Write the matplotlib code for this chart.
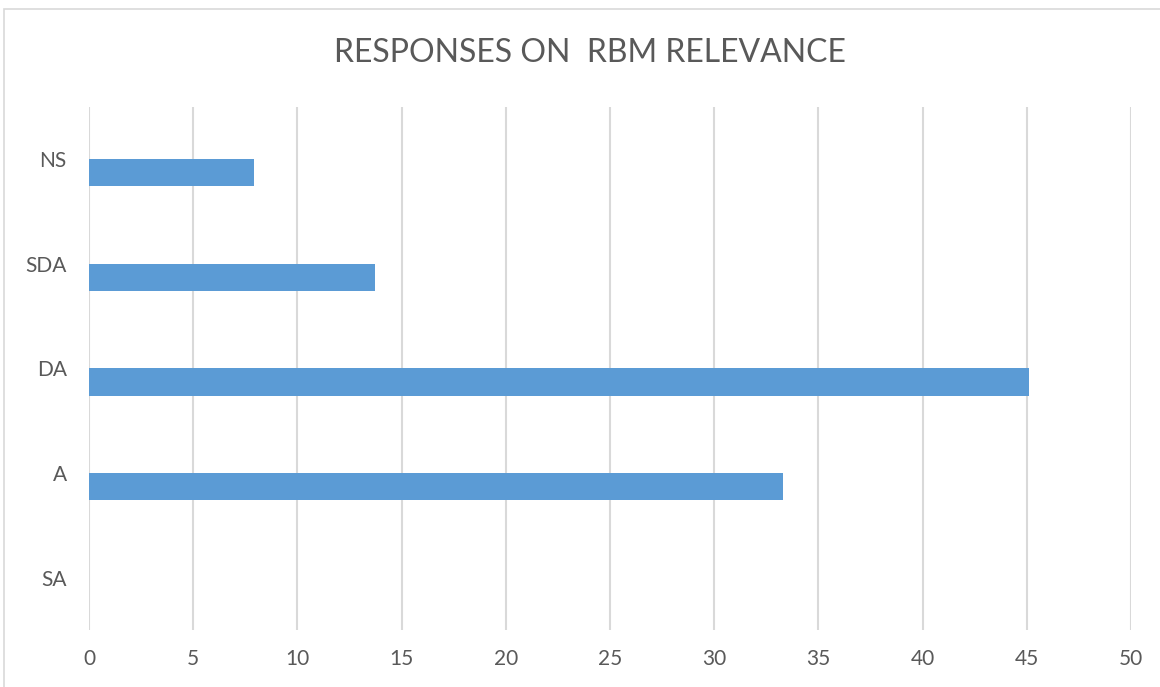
import numpy as np
import matplotlib.pyplot as plt
from matplotlib.patches import Rectangle

categories = ['SA', 'A', 'DA', 'SDA', 'NS']
values = [0, 33.3, 45.1, 13.7, 7.9]
xticks = [0, 5, 10, 15, 20, 25, 30, 35, 40, 45, 50]

plt.rcParams['font.family'] = ['Lato', 'DejaVu Sans']

fig = plt.figure(figsize=(11.6, 6.87), dpi=100)
fig.patch.set_facecolor('white')
# light frame around the chart area
fig.patches.append(Rectangle((4/1160, -0.01), 1.02, (687-9)/687 + 0.01,
                             transform=fig.transFigure, fill=False,
                             edgecolor='#D9D9D9', linewidth=1.2))

ax = fig.add_axes([89/1160, 57/687, (1131-89)/1160, (630-107)/687])
pos = np.arange(len(categories))
ax.barh(pos - 0.13, values, height=0.26, color='#5B9BD5', zorder=3)

ax.set_xlim(0, 50)
ax.set_ylim(-0.5, 4.5)
ax.set_xticks(xticks)
ax.set_yticks(pos)
ax.set_yticklabels(categories)
ax.grid(axis='x', color='#D9D9D9', linewidth=1.5, zorder=0)
for s in ax.spines.values():
    s.set_visible(False)
ax.tick_params(length=0, labelsize=15, colors='#595959')
ax.tick_params(axis='x', pad=14)
ax.tick_params(axis='y', pad=16)

fig.text(590/1160, 1 - 53/687, 'RESPONSES ON  RBM RELEVANCE', ha='center', va='center',
         fontsize=23, color='#595959')

plt.savefig('out.png', dpi=100)
